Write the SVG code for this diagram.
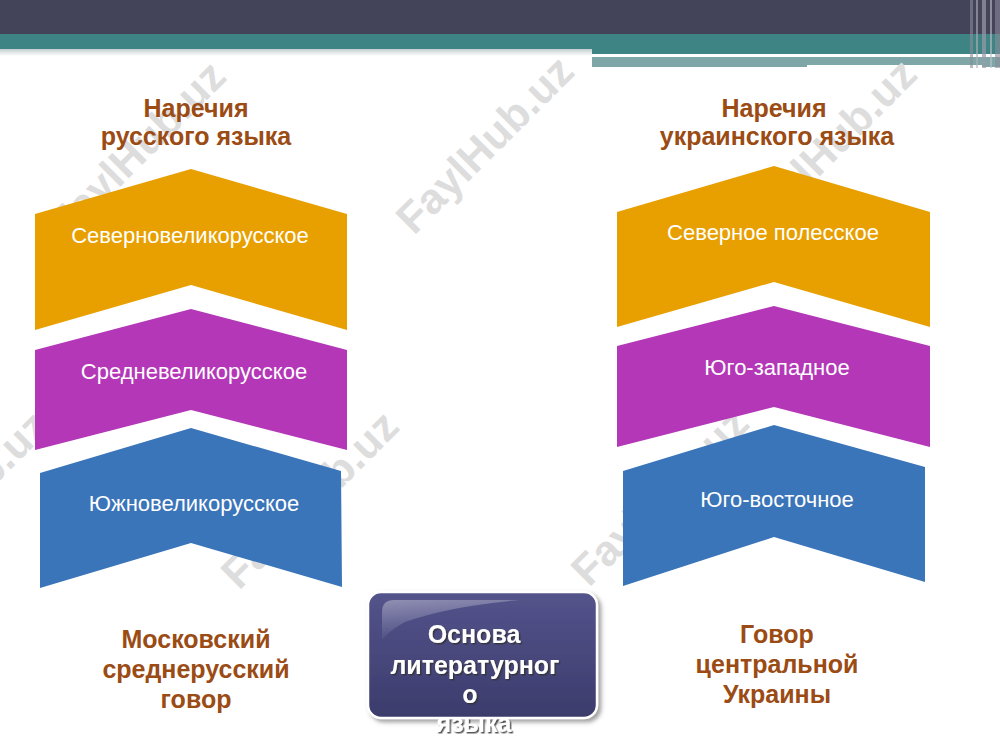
<svg xmlns="http://www.w3.org/2000/svg" width="1000" height="750" viewBox="0 0 1000 750">
  <defs>
    <style>
      .wm { font-family: "Liberation Sans", Arial, sans-serif; font-weight: bold; font-size: 43px; fill: #dddddd; }
      .head { font-family: "Liberation Sans", Arial, sans-serif; font-weight: bold; font-size: 25px; fill: #9b4b14; text-anchor: middle; }
      .lbl { font-family: "Liberation Sans", Arial, sans-serif; font-size: 22px; fill: #ffffff; text-anchor: middle; }
      .box { font-family: "Liberation Sans", Arial, sans-serif; font-weight: bold; font-size: 25px; fill: #ffffff; text-anchor: middle; }
      .orange { fill: #e89f00; }
      .purple { fill: #b437b8; }
      .blue { fill: #3a74b9; }
    </style>
    <linearGradient id="boxFill" x1="0" y1="0" x2="0" y2="1">
      <stop offset="0" stop-color="#54548c"/>
      <stop offset="1" stop-color="#3b3b6c"/>
    </linearGradient>
    <linearGradient id="gloss" x1="0" y1="0" x2="0.3" y2="1">
      <stop offset="0" stop-color="#ffffff" stop-opacity="0.35"/>
      <stop offset="1" stop-color="#ffffff" stop-opacity="0"/>
    </linearGradient>
    <linearGradient id="hdrShade" x1="0" y1="0" x2="0" y2="1">
      <stop offset="0" stop-color="#c3cece"/>
      <stop offset="1" stop-color="#ffffff"/>
    </linearGradient>
    <filter id="txtShadow" x="-10%" y="-20%" width="120%" height="150%">
      <feDropShadow dx="1.5" dy="1.5" stdDeviation="0.6" flood-color="#303030" flood-opacity="0.8"/>
    </filter>
    <filter id="boxShadow" x="-10%" y="-10%" width="125%" height="130%">
      <feDropShadow dx="3" dy="3" stdDeviation="2" flood-color="#606060" flood-opacity="0.6"/>
    </filter>
  </defs>

  <rect x="0" y="0" width="1000" height="750" fill="#ffffff"/>

  <!-- header -->
  <g id="header">
    <rect x="0" y="0" width="1000" height="34" fill="#43435a"/>
    <rect x="0" y="34" width="1000" height="15" fill="#3f8484"/>
    <rect x="0" y="49" width="592" height="7" fill="url(#hdrShade)"/>
    <rect x="592" y="49" width="408" height="5" fill="#3f8484"/>
    <rect x="592" y="54" width="335" height="3" fill="#ffffff"/>
    <rect x="592" y="57" width="408" height="10" fill="#7fa7a7"/>
    <rect x="807" y="65" width="175" height="3" fill="#ffffff"/>
    <rect x="970" y="0" width="3" height="68" fill="#8a8a98" opacity="0.6"/>
    <rect x="976" y="0" width="2" height="68" fill="#b0b0bc" opacity="0.6"/>
    <rect x="982" y="0" width="4" height="68" fill="#9a9aa8" opacity="0.7"/>
    <rect x="990" y="0" width="2" height="68" fill="#c0c0c8" opacity="0.6"/>
    <rect x="995" y="0" width="5" height="68" fill="#8a8a98" opacity="0.6"/>
  </g>

  <!-- watermarks -->
  <g id="watermarks">
    <text class="wm" text-anchor="middle" transform="translate(147,160) rotate(-45)">FaylHub.uz</text>
    <text class="wm" text-anchor="middle" transform="translate(495,155) rotate(-45)">FaylHub.uz</text>
    <text class="wm" text-anchor="middle" transform="translate(838,158) rotate(-45)">FaylHub.uz</text>
    <text class="wm" text-anchor="middle" transform="translate(-30,510) rotate(-45)">FaylHub.uz</text>
    <text class="wm" text-anchor="middle" transform="translate(320,510) rotate(-45)">FaylHub.uz</text>
    <text class="wm" text-anchor="middle" transform="translate(670,507) rotate(-45)">FaylHub.uz</text>
  </g>

  <!-- headings -->
  <g id="head-ru">
    <text class="head" x="196" y="117">Наречия</text>
    <text class="head" x="196" y="145">русского языка</text>
  </g>
  <g id="head-ua">
    <text class="head" x="774" y="117">Наречия</text>
    <text class="head" x="777" y="145">украинского языка</text>
  </g>

  <!-- left chevrons -->
  <g id="ru-north">
    <polygon class="orange" points="35,214 191,169 347,214 347,330 191,285 35,330"/>
    <text class="lbl" x="190" y="243">Северновеликорусское</text>
  </g>
  <g id="ru-middle">
    <polygon class="purple" points="35,350 191,309 347,350 347,450 191,410 35,450"/>
    <text class="lbl" x="194" y="379">Средневеликорусское</text>
  </g>
  <g id="ru-south">
    <polygon class="blue" points="40,473 191,428 341,471 342,587 191,543 40,588"/>
    <text class="lbl" x="194" y="511">Южновеликорусское</text>
  </g>

  <!-- right chevrons -->
  <g id="ua-north">
    <polygon class="orange" points="617,212 774,166 930,212 930,327 774,282 617,327"/>
    <text class="lbl" x="773" y="240">Северное полесское</text>
  </g>
  <g id="ua-sw">
    <polygon class="purple" points="617,346 774,306 930,346 930,447 774,407 617,447"/>
    <text class="lbl" x="777" y="375">Юго-западное</text>
  </g>
  <g id="ua-se">
    <polygon class="blue" points="623,471 774,425 925,467 925,582 774,537 623,586"/>
    <text class="lbl" x="777" y="507">Юго-восточное</text>
  </g>

  <!-- bottom labels -->
  <g id="moscow">
    <text class="head" x="196" y="648">Московский</text>
    <text class="head" x="196" y="678">среднерусский</text>
    <text class="head" x="196" y="708">говор</text>
  </g>
  <g id="central-ua">
    <text class="head" x="777" y="643">Говор</text>
    <text class="head" x="777" y="673">центральной</text>
    <text class="head" x="777" y="703">Украины</text>
  </g>

  <!-- center box -->
  <g id="basis">
    <rect x="368" y="592" width="229" height="126" rx="13" ry="13" fill="url(#boxFill)" stroke="#ffffff" stroke-width="2.5" filter="url(#boxShadow)"/>
    <path d="M382,640 L382,612 Q382,600 394,600 L520,600 Q450,606 405,622 Q390,630 382,640 Z" fill="url(#gloss)"/>
    <g filter="url(#txtShadow)">
      <text class="box" x="474" y="643">Основа</text>
      <text class="box" x="475" y="674">литературног</text>
      <text class="box" x="470" y="703">о</text>
      <text class="box" x="474" y="732">языка</text>
    </g>
  </g>
</svg>
